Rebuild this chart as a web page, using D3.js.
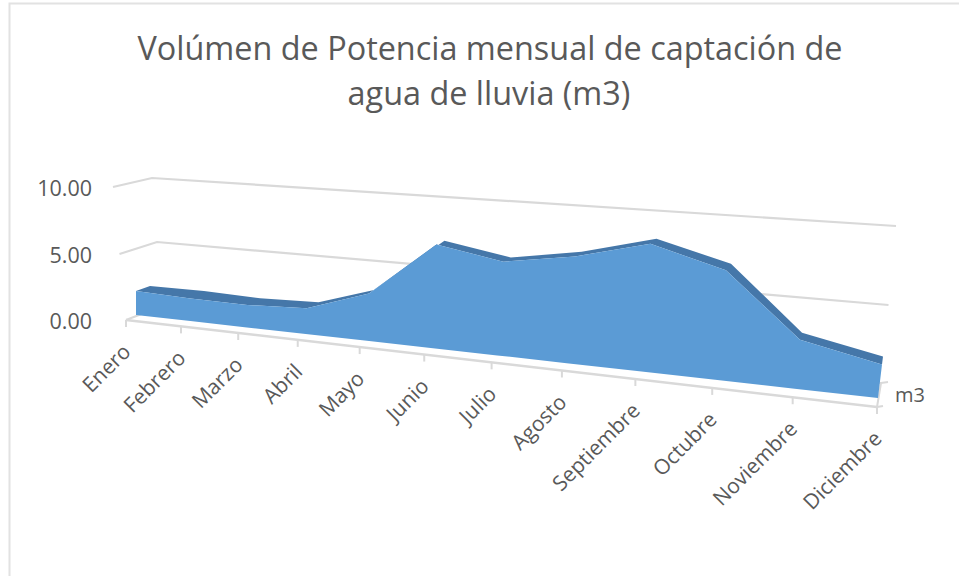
<!DOCTYPE html>
<html><head><meta charset="utf-8">
<script src="https://cdn.jsdelivr.net/npm/d3@7/dist/d3.min.js"></script>
<style>html,body{margin:0;padding:0;background:#fff}svg{display:block}text{font-family:"Open Sans",sans-serif;fill:#595959}</style>
</head><body><svg id="c" width="959" height="576"></svg>
<script>
const titleLines = ["Volúmen de Potencia mensual de captación de", "agua de lluvia (m3)"];
const categories = ["Enero","Febrero","Marzo","Abril","Mayo","Junio","Julio","Agosto","Septiembre","Octubre","Noviembre","Diciembre"];
const values = [1.9,1.75,1.7,1.9,3.4,7.25,6.4,7.1,8.25,6.9,3.0,2.0];
const yTicks = [0,5,10];
const seriesName = "m3";

const svg = d3.select("#c");
const GRID = "#d9d9d9";

// foreshortened index -> 0..1 (perspective along the category axis)
const persp = d3.scaleLinear().domain([0, categories.length - 1]).range([0, 1]);
const depthT = i => { const u = persp(i); return u / (1 + 0.265 * (1 - u)); };

// scales on the foreshortened position
const xFloor = d3.scaleLinear().domain([0,1]).range([126,877]);
const yFloor = d3.scaleLinear().domain([0,1]).range([320,407]);
const xFront = d3.scaleLinear().domain([0,1]).range([136,878]);
const yFront = d3.scaleLinear().domain([0,1]).range([315,398]);
const unit   = d3.scaleLinear().domain([0,1]).range([12.6,16.8]);
const lean   = d3.scaleLinear().domain([0,1]).range([0,2]);
const ribbonX = d3.scaleLinear().domain([0,.229,.312,.397,.68,.781,.889,1]).range([14,12,5,8,6,5,2,1]);
const ribbonY = d3.scaleLinear().domain([0,.073,.229,.312,.68,.781,.889,1]).range([5,7.5,6,3.5,5,6.5,7,8]);

// wall scales: value -> the three corners of a gridline
const wallLX = d3.scaleLinear().domain([0,10]).range([126,113]);
const wallLY = d3.scaleLinear().domain([0,5,10]).range([320,254,187]);
const wallCX = d3.scaleLinear().domain([0,10]).range([162,152]);
const wallCY = d3.scaleLinear().domain([0,5,10]).range([306,242,178]);
const wallRX = d3.scaleLinear().domain([0,10]).range([881,896]);
const wallRY = d3.scaleLinear().domain([0,5,10]).range([383,305,226]);

// frame
svg.append("path").attr("d","M9.5,576V3.5H959").attr("fill","none").attr("stroke","#e2e2e2").attr("stroke-width",2);

// title
svg.append("g").selectAll("text").data(titleLines).join("text")
  .attr("x",(d,i)=>i?489:490).attr("y",(d,i)=>60+i*45).attr("text-anchor","middle")
  .attr("font-size",32.4).text(d=>d);

// gridlines
const line = d3.line();
svg.append("g").selectAll("path").data(yTicks).join("path")
  .attr("d",v=>line([[wallLX(v),wallLY(v)],[wallCX(v),wallCY(v)],[wallRX(v),wallRY(v)]]))
  .attr("fill","none").attr("stroke",GRID).attr("stroke-width",2.2);

// y tick labels
svg.append("g").selectAll("text").data(yTicks).join("text")
  .attr("x",92).attr("y",v=>wallLY(v)+9).attr("text-anchor","end")
  .attr("font-size",21.5).text(v=>d3.format(".2f")(v));

// floor front edge, right side, ticks
const floorPts = categories.map((c,i)=>[xFloor(depthT(i)),yFloor(depthT(i))]);
svg.append("path").attr("d",line([floorPts[0],floorPts[11]])).attr("fill","none").attr("stroke",GRID).attr("stroke-width",2.5);
svg.append("path").attr("d",line([floorPts[11],[wallRX(0),wallRY(0)]])).attr("fill","none").attr("stroke",GRID).attr("stroke-width",2);
svg.append("path").attr("d",line([floorPts[11],[floorPts[11][0]+6,floorPts[11][1]-1]])).attr("fill","none").attr("stroke",GRID).attr("stroke-width",2);
svg.append("path").attr("d",line([[wallRX(0),wallRY(0)],[wallRX(0)+7,wallRY(0)-1]])).attr("fill","none").attr("stroke",GRID).attr("stroke-width",2);
svg.append("g").selectAll("line").data(floorPts).join("line")
  .attr("x1",d=>d[0]).attr("x2",d=>d[0]).attr("y1",d=>d[1]).attr("y2",d=>d[1]+7)
  .attr("stroke",GRID).attr("stroke-width",2);

// category labels
svg.append("g").selectAll("text").data(categories).join("text")
  .attr("text-anchor","end").attr("font-size",21)
  .attr("transform",(c,i)=>`translate(${floorPts[i][0]+6},${floorPts[i][1]+33}) rotate(-45)`)
  .text(c=>c);

// area
const frontTop = values.map((v,i)=>{const t=depthT(i);return [xFront(t)+lean(t)*v, yFront(t)-unit(t)*v];});
const backTop  = frontTop.map((p,i)=>{const t=depthT(i);return [p[0]+ribbonX(t), p[1]-ribbonY(t)];});
const frontBase = values.map((v,i)=>{const t=depthT(i);return [xFront(t),yFront(t)];});
svg.append("path").attr("d",line(frontTop.concat(backTop.slice().reverse()))+"Z").attr("fill","#4577a9");
svg.append("path").attr("d",line(frontTop.concat(frontBase.slice().reverse()))+"Z").attr("fill","#5b9bd5");

// series label
svg.append("text").attr("x",895).attr("y",402).attr("font-size",20).text(seriesName);
</script></body></html>
